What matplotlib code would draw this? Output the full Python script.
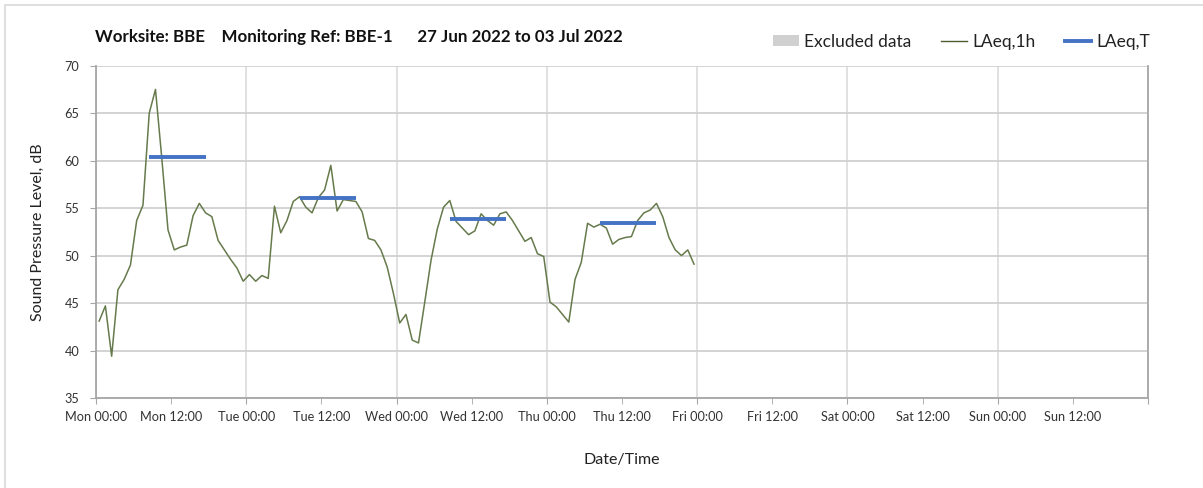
import numpy as np
import matplotlib
matplotlib.use('Agg')
import matplotlib.pyplot as plt
from matplotlib.patches import Rectangle
from matplotlib.lines import Line2D

# hourly LAeq,1h values, Mon 00:30 .. Thu 23:30
laeq_1h = [43.1, 44.7, 39.4, 46.4, 47.5, 49.0, 53.7, 55.3, 65.0, 67.5,
           60.3, 52.7, 50.6, 50.9, 51.1, 54.2, 55.5, 54.5, 54.1, 51.6,
           50.6, 49.6, 48.7, 47.3, 48.0, 47.3, 47.9, 47.6, 55.2, 52.4,
           53.7, 55.7, 56.2, 55.1, 54.5, 56.1, 56.9, 59.5, 54.7, 55.9,
           55.8, 55.7, 54.6, 51.8, 51.6, 50.6, 48.8, 46.0, 42.9, 43.8,
           41.1, 40.8, 45.1, 49.5, 52.8, 55.1, 55.8, 53.6, 52.9, 52.2,
           52.6, 54.4, 53.7, 53.2, 54.4, 54.6, 53.7, 52.6, 51.5, 51.9,
           50.2, 49.9, 45.1, 44.6, 43.8, 43.0, 47.5, 49.3, 53.4, 53.0,
           53.3, 52.9, 51.2, 51.7, 51.9, 52.0, 53.7, 54.5, 54.8, 55.5,
           54.1, 51.9, 50.6, 50.0, 50.6, 49.1]
hours = np.arange(len(laeq_1h)) + 0.5

# LAeq,T over the daytime period of each day (start hour, end hour, level)
laeq_t_start = [8.5, 32.5, 56.5, 80.5]
laeq_t_end = [17.5, 41.5, 65.5, 89.5]
laeq_t = [60.4, 56.1, 53.85, 53.4]

days = ['Mon', 'Tue', 'Wed', 'Thu', 'Fri', 'Sat', 'Sun']
major_labels = [d + ' 00:00' for d in days] + ['']
minor_labels = [d + ' 12:00' for d in days]

font = 'Lato'
plt.rcParams['font.family'] = [font, 'DejaVu Sans']

fig = plt.figure(figsize=(12.03, 4.88), dpi=100)
ax = fig.add_axes([0.0798, 0.1844, 0.8745, 0.6810])

# chart border
fig.patches.append(Rectangle((5 / 1203, -0.1), 1.2, 1 - 5 / 488 + 0.1,
                             transform=fig.transFigure, fill=False,
                             edgecolor='#d9d9d9', linewidth=1.2))

ax.plot(hours, laeq_1h, color='#667a4c', linewidth=1.1, zorder=3)
ax.hlines(laeq_t, laeq_t_start, laeq_t_end, color='#4472c4', linewidth=2.8, zorder=4)

ax.set_xlim(0, 168)
ax.set_ylim(35, 70)
ax.set_yticks(np.arange(35, 71, 5))
ax.set_xticks(np.arange(0, 169, 24))
ax.set_xticklabels(major_labels)
ax.set_xticks(np.arange(12, 168, 24), minor=True)
ax.set_xticklabels(minor_labels, minor=True)

ax.grid(axis='y', color='#d0d0d0', linewidth=1.3)
ax.grid(axis='x', which='major', color='#dedede', linewidth=1.3)
ax.set_axisbelow(True)

ax.spines['top'].set_visible(False)
for s in ['left', 'right', 'bottom']:
    ax.spines[s].set_color('#a6a6a6')
    ax.spines[s].set_linewidth(1.3)

ax.tick_params(axis='both', which='both', length=4, color='#a6a6a6',
               labelsize=9.2, labelcolor='#333333', pad=5)
ax.tick_params(axis='y', pad=8)

ax.set_ylabel('Sound Pressure Level, dB', fontsize=11.5, color='#222222', labelpad=14)
ax.set_xlabel('Date/Time', fontsize=11.5, color='#222222', labelpad=22)

fig.text(95 / 1203, 1 - 37 / 488, 'Worksite: BBE    Monitoring Ref: BBE-1      27 Jun 2022 to 03 Jul 2022',
         fontsize=12.2, fontweight='bold', va='center', ha='left', color='#111111')

handles = [Rectangle((0, 0), 1, 1, facecolor='#d0d0d0', edgecolor='none'),
           Line2D([], [], color='#4d5c33', linewidth=1.0),
           Line2D([], [], color='#4472c4', linewidth=2.8)]
fig.legend(handles, ['Excluded data', 'LAeq,1h', 'LAeq,T'],
           loc='center right', bbox_to_anchor=(1150 / 1203, 1 - 42 / 488),
           ncol=3, frameon=False, fontsize=12.5, handlelength=1.5,
           handleheight=0.6, columnspacing=1.7, handletextpad=0.3,
           labelcolor='#222222', borderpad=0, borderaxespad=0)

fig.savefig('out.png', dpi=100)
